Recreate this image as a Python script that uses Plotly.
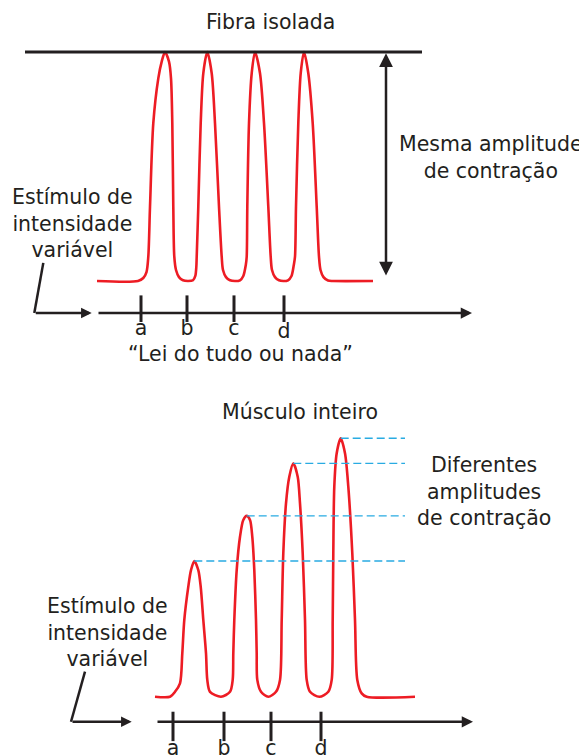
import plotly.graph_objects as go

# top panel: single fibre, time in ms, amplitude in % of the maximum
fibre_time = [0, 41, 46.3, 49.5, 51.3, 53, 56.3, 61.3, 64.7, 68, 72, 74, 75.3, 76.3, 77.3, 79, 82, 86, 91,
              96, 98.3, 99.3, 99.7, 101.3, 103.7, 106.3, 110.3, 114.7, 118, 122, 124.7, 126, 129, 133, 138,
              143, 146.3, 148.8, 149.7, 150.3, 152, 154.7, 158, 163, 167, 171.3, 173.7, 175, 178, 182, 186.3,
              191, 194.5, 196.8, 198, 199, 201.3, 203.7, 207, 211.3, 215.7, 219.7, 222, 223.5, 226.5, 231, 236, 276]
fibre_amp = [0, 0, 1.3, 3.9, 10.6, 32.4, 68.9, 88.5, 95.8, 100, 95.8, 88.5, 68.9, 32.4, 10.6, 4.8, 1.7, 0.3, 0,
             0.3, 2.2, 6, 10.6, 32.4, 68.9, 90.7, 100, 90.7, 68.9, 32.4, 10.6, 4.8, 1.7, 0.3, 0,
             0.3, 2.2, 7, 10.6, 32.4, 68.9, 90.7, 100, 90.7, 68.9, 32.4, 10.6, 4.8, 1.7, 0.3, 0,
             0.3, 2.2, 7, 10.6, 32.4, 68.9, 90.7, 100, 90.7, 68.9, 32.4, 10.6, 4.8, 1.7, 0.2, 0, 0]
fibre_stimuli = [44, 90, 137, 187]

# bottom panel: whole muscle
muscle_time = [-1, 14, 19, 24, 26.3, 28.3, 32.3, 35, 38.3, 42.3, 44.7, 47.3, 50, 51.3, 54, 65,
               74, 76.7, 77.3, 78.3, 80.7, 84, 87.3, 90.7, 94, 96.3, 98.3, 100, 100.7, 101.3, 105, 112.3,
               120, 124, 125.7, 127.3, 130, 133.3, 137.3, 141.7, 144, 146.7, 149, 150.7, 154, 163.3,
               172.3, 175.7, 176.7, 177.3, 178.3, 180.7, 184.7, 189, 192.3, 196.3, 199, 201.3, 205.7, 210.7, 259]
muscle_amp = [0, 0, 1.9, 5.2, 16.8, 29.7, 42.6, 49.0, 52.5, 49.0, 42.6, 29.7, 16.8, 6.5, 1.9, 0,
              1.9, 6.5, 16.8, 29.7, 49.0, 61.9, 68.4, 70.0, 68.4, 61.9, 49.0, 29.7, 16.8, 6.5, 1.9, 0,
              1.9, 6.5, 29.7, 55.5, 74.8, 85.1, 90.3, 85.1, 74.8, 55.5, 29.7, 6.5, 1.9, 0,
              1.9, 6.5, 29.7, 55.5, 81.3, 94.2, 100, 94.2, 81.3, 55.5, 29.7, 6.5, 1.3, 0, 0]
muscle_stimuli = [17, 68, 115, 165]
muscle_peak_time = [38.3, 90.7, 137.3, 184.7]
muscle_peak_amp = [52.5, 70.0, 90.3, 100.0]

stimulus_labels = ["a", "b", "c", "d"]

RED = "#ed1c24"
INK = "#231f20"
CYAN = "#29abe2"
FONT = dict(family="DejaVu Sans", size=20.5, color=INK)

TOP_AXIS, BOT_AXIS = -14.0, -9.7  # level of the time arrows in each panel

fig = go.Figure()

# top panel
fig.add_trace(go.Scatter(
    x=fibre_time, y=fibre_amp, mode="lines",
    line=dict(color=RED, width=2.6, shape="spline", smoothing=0.8),
    xaxis="x", yaxis="y",
))
fig.add_trace(go.Scatter(
    x=fibre_stimuli, y=[-12.1] * len(fibre_stimuli), mode="markers",
    marker=dict(symbol="line-ns", size=19, line=dict(width=3, color=INK)),
    xaxis="x", yaxis="y",
))
fig.add_trace(go.Scatter(
    x=fibre_stimuli, y=[-21.4, -21.4, -21.4, -22.7], mode="text",
    text=stimulus_labels, textposition="middle center", textfont=FONT,
    xaxis="x", yaxis="y",
))
# pointer from the side label
fig.add_trace(go.Scatter(
    x=[-53.7, -62.7], y=[7.9, TOP_AXIS], mode="lines",
    line=dict(color=INK, width=2.5), xaxis="x", yaxis="y",
))

# bottom panel
fig.add_trace(go.Scatter(
    x=muscle_time, y=muscle_amp, mode="lines",
    line=dict(color=RED, width=2.6, shape="spline", smoothing=0.8),
    xaxis="x2", yaxis="y2",
))
for t, a in zip(muscle_peak_time, muscle_peak_amp):
    fig.add_trace(go.Scatter(
        x=[t, 249], y=[a, a], mode="lines",
        line=dict(color=CYAN, width=1.4, dash="8px,4px"),
        xaxis="x2", yaxis="y2",
    ))
fig.add_trace(go.Scatter(
    x=muscle_stimuli, y=[-11.5] * len(muscle_stimuli), mode="markers",
    marker=dict(symbol="line-ns", size=21, line=dict(width=3, color=INK)),
    xaxis="x2", yaxis="y2",
))
fig.add_trace(go.Scatter(
    x=muscle_stimuli, y=[-20.6] * len(muscle_stimuli), mode="text",
    text=stimulus_labels, textposition="middle center", textfont=FONT,
    xaxis="x2", yaxis="y2",
))
fig.add_trace(go.Scatter(
    x=[-71, -85], y=[9.7, BOT_AXIS], mode="lines",
    line=dict(color=INK, width=2.5), xaxis="x2", yaxis="y2",
))


def arrow(x, y, ax, ay, xr, yr, size=0.9, both=False):
    return dict(
        x=x, y=y, ax=ax, ay=ay, xref=xr, yref=yr, axref=xr, ayref=yr,
        text="", showarrow=True, arrowhead=2, arrowsize=size, arrowwidth=2.5,
        arrowcolor=INK, startarrowhead=2, startarrowsize=size,
        arrowside="end+start" if both else "end",
    )


def label(text, x, y, xr, yr):
    return dict(x=x, y=y, xref=xr, yref=yr, text=text, showarrow=False,
                font=FONT, align="center", xanchor="center", yanchor="middle")


annotations = [
    # top
    arrow(375, TOP_AXIS, 0, TOP_AXIS, "x", "y"),
    arrow(-5.3, TOP_AXIS, -62.7, TOP_AXIS, "x", "y", size=0.85),
    arrow(289, max(fibre_amp) - 0.6, 289, 1.7, "x", "y", size=1.1, both=True),
    label("Fibra isolada", 173, 113.1, "x", "y"),
    label("Mesma amplitude<br>de contração", 394, 54.1, "x", "y"),
    label("Estímulo de<br>intensidade<br>variável", -25, 25.3, "x", "y"),
    label("“Lei do tudo ou nada”", 143, -31.9, "x", "y"),
    # bottom
    arrow(317, BOT_AXIS, 0, BOT_AXIS, "x2", "y2"),
    arrow(-24.3, BOT_AXIS, -85, BOT_AXIS, "x2", "y2", size=0.85),
    label("Músculo inteiro", 144, 110.2, "x2", "y2"),
    label("Diferentes<br>amplitudes<br>de contração", 328, 79.6, "x2", "y2"),
    label("Estímulo de<br>intensidade<br>variável", -49, 25.0, "x2", "y2"),
]

# the page body adds an 8px margin, so the figure is 8px smaller
# and the axis ranges are shifted to compensate
fig.update_layout(
    width=579, height=747,
    margin=dict(l=0, r=0, t=0, b=0),
    paper_bgcolor="white", plot_bgcolor="rgba(0,0,0,0)",
    showlegend=False,
    xaxis=dict(range=[-89, 490], domain=[0, 1], visible=False, fixedrange=True),
    yaxis=dict(range=[-206.99, 119.21], domain=[0, 1], visible=False, fixedrange=True),
    xaxis2=dict(range=[-148, 431], overlaying="x", visible=False, fixedrange=True),
    yaxis2=dict(range=[-22.56, 266.53], overlaying="y", visible=False, fixedrange=True),
    shapes=[dict(type="line", xref="x", yref="y", x0=-72, x1=325,
                 y0=max(fibre_amp), y1=max(fibre_amp), line=dict(color=INK, width=3))],
    annotations=annotations,
)

fig.write_html("out.html")
